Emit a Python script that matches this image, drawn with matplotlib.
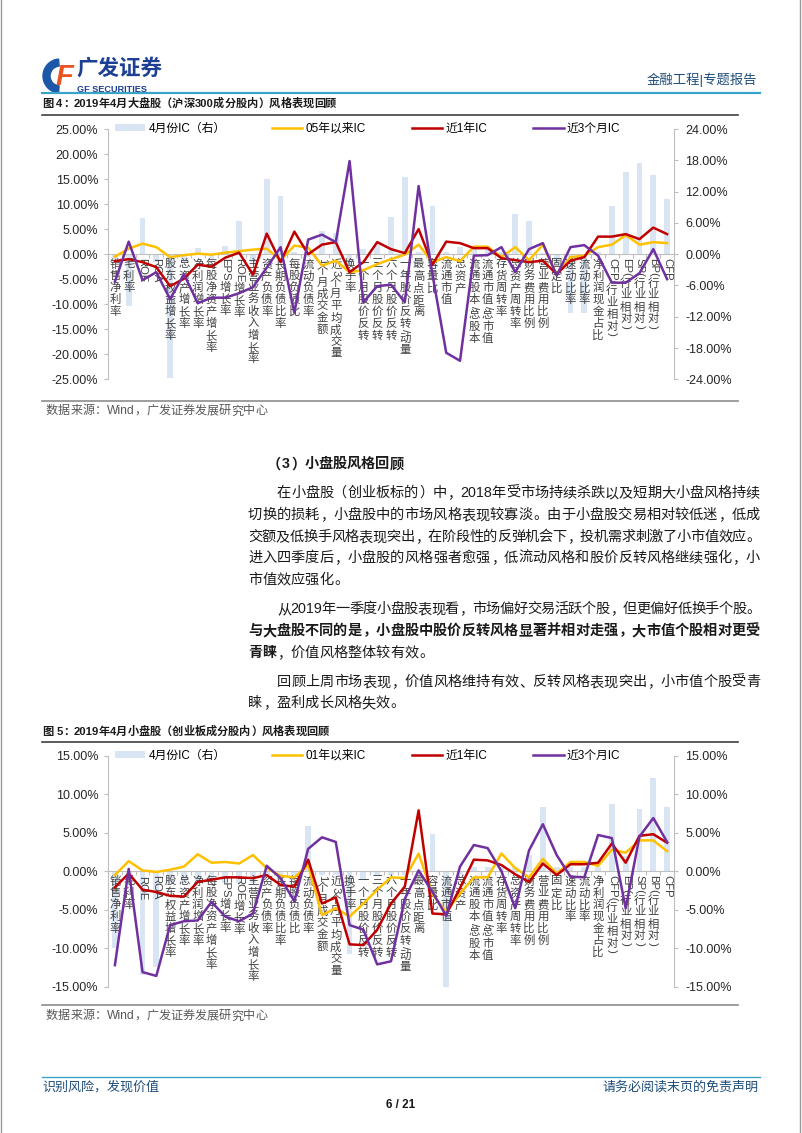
import numpy as np
import matplotlib
matplotlib.use('Agg')
import matplotlib.pyplot as plt
from matplotlib import font_manager
from matplotlib.font_manager import FontProperties
from matplotlib.ft2font import FT2Font
from matplotlib.transforms import ScaledTranslation
from matplotlib.patches import Wedge
from matplotlib.ticker import FuncFormatter

plt.rcParams['font.family'] = ['Liberation Sans', 'Noto Sans CJK SC']
plt.rcParams['axes.unicode_minus'] = False

# ---------------------------------------------------------------- data
categories = ['销售净利率', '毛利率', 'ROE', 'ROA', '股东权益增长率', '总资产增长率', '净利润增长率',
              '每股净资产增长率', 'EPS增长率', 'ROE增长率', '主营业务收入增长率', '资产负债率', '长期负债比率',
              '每股负债比', '流动负债率', '1个月成交金额', '近3个月平均成交量', '换手率', '一个月股价反转',
              '三个月股价反转', '六个月股价反转', '一年股价反转/动量', '最高点距离', '容量比', '流通市值',
              '总资产', '流通股本/总股本', '流通市值/总市值', '存货周转率', '总资产周转率', '财务费用比例',
              '营业费用比例', '固定比', '速动比率', '流动比率', '净利润现金占比', 'CFP(行业相对)',
              'EP(行业相对)', 'SP(行业相对)', 'BP(行业相对)', 'CFP']

# 图4 大盘股 (%)
big_apr = [-1.5, -9.9, 7.0, -1.5, -23.7, -1.5, 1.2, -1.0, 1.5, 6.3, -1.5, 14.5, 11.2, 0.5,
           -0.5, 4.5, 4.1, -2.0, 1.0, 1.8, 7.2, 14.8, 0.5, 9.2, 0.5, 1.3, 1.0, 1.0,
           0.5, 7.7, 6.4, 0.3, -2.5, -11.3, -11.3, 0.5, 9.3, 15.7, 17.5, 15.2, 10.5]
big_long = [-0.5, 1.1, 2.1, 1.4, -0.6, -0.2, 0.1, -0.1, 0.3, 0.6, 0.9, 1.1, -1.2, 1.7,
            1.3, -2.3, -1.3, -3.6, -3.2, -2.0, -1.0, -0.1, 1.9, -1.6, -0.6, -1.4, 1.5, 1.5,
            -0.6, 1.4, -1.2, 1.9, -4.1, -0.6, -0.3, 1.4, 1.9, 3.8, 1.9, 2.4, 2.2]
big_1y = [-1.4, -1.0, -1.6, -2.6, -6.4, -4.9, -2.1, -2.5, -0.7, 0.3, -4.1, 4.1, -1.6, 4.5,
          0.0, 1.9, 2.4, -3.6, -1.6, 2.4, 1.0, 0.2, 5.0, -2.1, 2.5, 2.2, 1.2, 1.2,
          -0.8, -1.2, -1.6, -1.3, -4.0, -1.3, -0.6, 3.5, 3.5, 4.0, 3.0, 5.3, 4.0]
big_3m = [-5.5, 2.5, -5.2, -3.6, -9.0, -4.0, -9.8, -8.7, -8.7, -7.8, -6.6, -2.7, 1.4, -11.7,
          2.9, 3.9, 2.4, 18.6, -9.6, -6.4, -6.1, -9.6, 13.6, -4.0, -19.7, -21.3, -0.3, -0.2,
          1.4, -3.6, 1.0, 2.2, -4.3, 1.4, 1.8, -0.3, -5.7, -5.7, -3.8, 1.0, -5.0]

# 图5 小盘股 (%)
small_apr = [-10.0, -1.0, -13.5, -12.5, -1.5, -1.5, -1.5, -1.0, -1.5, -1.5, -1.5, -0.5, -2.0, -0.5,
             5.9, -0.5, -0.5, -10.7, -1.0, -0.5, -0.5, -0.5, -0.5, 4.8, -15.1, -0.5, 0.5, 0.5,
             0.5, 0.5, 2.1, 8.3, 0.5, 0.5, 0.5, 0.5, 8.7, 2.0, 8.1, 12.1, 8.3]
small_long = [-0.5, 1.3, 0.1, -0.1, 0.2, 0.6, 2.2, 1.1, 1.2, 1.0, 2.1, 0.4, -0.6, -0.8,
              0.8, -5.7, -4.8, -5.9, -4.2, -2.4, -0.8, -0.9, 2.3, -3.0, -5.3, -2.9, -0.8, -0.8,
              2.3, 0.4, -0.8, 1.6, -0.3, 1.2, 1.2, 0.7, 2.8, 2.4, 4.0, 4.0, 2.6]
small_1y = [-2.1, -0.3, -2.4, -2.7, -3.2, -3.3, -1.4, -1.1, -0.8, -0.8, -0.9, -0.5, -1.8, -2.0,
            1.5, -4.2, -3.4, -9.5, -9.6, -7.6, -4.2, -2.0, 7.9, -5.5, -5.6, -2.2, 1.5, 1.4,
            0.8, -0.4, -1.4, 1.0, -0.5, 0.9, 0.9, 1.1, 3.6, 1.1, 4.6, 4.8, 3.7]
small_3m = [-12.2, 0.3, -13.1, -13.6, -7.0, -6.5, -6.4, -4.0, -5.9, -6.5, -5.5, 0.7, -0.9, -3.9,
            2.9, 4.4, 3.8, -7.0, -7.6, -12.1, -11.7, -3.6, 0.1, -2.7, -5.8, 0.6, 3.4, 3.0,
            0.0, -4.8, 2.7, 6.1, 2.1, -0.7, -0.8, 4.7, 4.3, -4.8, 4.5, 6.9, 3.8]

# ---------------------------------------------------------------- style
BAR_C = '#d9e5f3'
YEL = '#ffc000'
RED = '#c00000'
PUR = '#7030a0'
AX_C = '#bfbfbf'
TXT = '#262626'
NAVY = '#1f4e79'

W, H, DPI = 802, 1133, 100
fig = plt.figure(figsize=(W / DPI, H / DPI), dpi=DPI)
page = fig.add_axes([0, 0, 1, 1])
page.set_xlim(0, W)
page.set_ylim(H, 0)
page.axis('off')


def rect(x0, y0, x1, y1):
    return [x0 / W, 1 - y1 / H, (x1 - x0) / W, (y1 - y0) / H]


_ft = {}


def adv(ch, bold=False):
    # advance width of a latin char, in em
    if bold not in _ft:
        f = FT2Font(font_manager.findfont(
            FontProperties(family='Liberation Sans', weight='bold' if bold else 'normal')))
        f.set_size(100, 72)
        _ft[bold] = f
    return _ft[bold].load_char(ord(ch)).linearHoriAdvance / 65536 / 100


def split_tokens(s):
    toks = []
    for ch in s:
        if ch.isascii() and ch != ' ' and toks and toks[-1].isascii() and toks[-1] != ' ':
            toks[-1] += ch
        else:
            toks.append(ch)
    return toks


def put_line(segs, y, x0, x1=None, em=14.2, color='#1a1a1a'):
    items = []
    for text, bold in segs:
        for t in split_tokens(text):
            w = sum(adv(c, bold) for c in t) * em if t.isascii() else em
            items.append((t, bold, w))
    extra = 0.0
    if x1 is not None and len(items) > 1:
        extra = (x1 - x0 - sum(w for _, _, w in items)) / (len(items) - 1)
    size = em * 72 / DPI
    base = y + 0.36 * em
    x = x0
    for t, bold, w in items:
        kw = dict(fontsize=size, color=color, va='baseline',
                  fontweight='bold' if bold else 'normal')
        if t == ' ':
            pass
        elif t.isascii():
            page.text(x, base, t, ha='left', **kw)
        elif t == '（':
            page.text(x + w - 0.06 * em, base, t, ha='right', **kw)
        elif t in '，。、：；）':
            page.text(x + 0.06 * em, base, t, ha='left', **kw)
        else:
            page.text(x + w / 2, base, t, ha='center', **kw)
        x += w + extra


def cat_labels(ax, labels, size=8.2, gap=3.0, color='#404040'):
    # vertical labels: chinese upright, latin rotated
    for i, lab in enumerate(labels):
        off = gap
        for t in split_tokens(lab):
            if t.isascii():
                w = sum(adv(c) for c in t) * size
                tr = ax.transData + ScaledTranslation(0, -(off + w / 2) / 72, fig.dpi_scale_trans)
                ax.text(i, 0, t, transform=tr, rotation=-90, ha='center', va='center',
                        fontsize=size, color=color, clip_on=False)
                off += w
            else:
                tr = ax.transData + ScaledTranslation(0, -(off + size * 0.52) / 72, fig.dpi_scale_trans)
                ax.text(i, 0, t, transform=tr, ha='center', va='center',
                        fontsize=size, color=color, clip_on=False)
                off += size * 1.04


def draw_chart(top, bottom, bars, long_ic, year_ic, m3_ic, long_name, lim_l, step_l, lim_r, step_r):
    x = np.arange(len(categories))
    ax = fig.add_axes(rect(108, top, 674, bottom))
    ax2 = ax.twinx()
    ax.yaxis.tick_right()
    ax2.yaxis.tick_left()
    ax2.yaxis.set_label_position('left')
    ax.patch.set_visible(False)

    b = ax.bar(x, bars, width=0.42, color=BAR_C, zorder=1)
    l1, = ax2.plot(x, long_ic, color=YEL, lw=1.8)
    l2, = ax2.plot(x, year_ic, color=RED, lw=1.8)
    l3, = ax2.plot(x, m3_ic, color=PUR, lw=1.8)

    ax.set_xlim(-0.5, len(x) - 0.5)
    ax.set_ylim(-lim_r, lim_r)
    ax2.set_ylim(-lim_l, lim_l)
    ax.set_yticks(np.arange(-lim_r, lim_r + 0.01, step_r))
    ax2.set_yticks(np.arange(-lim_l, lim_l + 0.01, step_l))
    fmt = FuncFormatter(lambda v, p: f'{v:.2f}%')
    ax.yaxis.set_major_formatter(fmt)
    ax2.yaxis.set_major_formatter(fmt)

    ax.set_xticks(np.arange(-0.5, len(x), 1.0))
    ax.set_xticklabels([])
    ax.tick_params(axis='x', length=3, color=AX_C, direction='out')
    ax.tick_params(axis='y', length=3, color=AX_C, labelsize=9, labelcolor=TXT, pad=5)
    ax2.tick_params(axis='y', length=3, color=AX_C, labelsize=9, labelcolor=TXT, pad=4)

    ax.spines['top'].set_visible(False)
    ax.spines['left'].set_visible(False)
    ax.spines['right'].set_color(AX_C)
    ax.spines['bottom'].set_position(('data', 0))
    ax.spines['bottom'].set_color(AX_C)
    for s in ['top', 'right', 'bottom']:
        ax2.spines[s].set_visible(False)
    ax2.spines['left'].set_color(AX_C)

    cat_labels(ax, categories)

    ax2.legend([b, l1, l2, l3], ['4月份IC（右）', long_name, '近1年IC', '近3个月IC'],
               ncol=4, loc='center left', bbox_to_anchor=(0.012, 1.0), frameon=False,
               fontsize=8.5, handlelength=2.6, handleheight=0.5, handletextpad=0.25,
               columnspacing=3.9, borderpad=0, borderaxespad=0)


# ---------------------------------------------------------------- page header
page.plot([1, 1], [0, H], color='#9a9a9a', lw=1)
page.plot([800, 800], [0, H], color='#9a9a9a', lw=1)
page.add_patch(Wedge((60, 76), 17, 95, 265, width=7, color='#1d58a8'))
page.text(64, 77, 'F', fontsize=21, fontweight='bold', fontstyle='italic', color='#e8531f',
          ha='center', va='center')
page.text(76, 69, '广发证券', fontsize=15.5, fontweight='bold', color='#1d3f94', va='center')
page.text(77, 89, 'GF SECURITIES', fontsize=6.6, fontweight='bold', color='#1d3f94', va='center')
page.text(757, 80, '金融工程|专题报告', fontsize=9.6, color=NAVY, ha='right', va='center')
page.plot([42, 760], [92.5, 92.5], color='#3aa4c8', lw=1.6)

# ---------------------------------------------------------------- chart 4
put_line([('图 4：2019年4月大盘股（沪深300成分股内）风格表现回顾', True)], 103, 42, em=11.2, color='#1a1a1a')
page.plot([42, 738], [115, 115], color='#404040', lw=1.2)
draw_chart(129, 379.3, big_apr, big_long, big_1y, big_3m, '05年以来IC', 25, 5, 24, 6)
page.plot([42, 738], [401, 401], color='#8c8c8c', lw=1.2)
put_line([('数据来源：Wind，广发证券发展研究中心', False)], 410, 46, em=12.1, color='#595959')

# ---------------------------------------------------------------- text
put_line([('（3）小盘股风格回顾', True)], 463, 268, em=14.2)
body = [
    ([('在小盘股（创业板标的）中，2018年受市场持续杀跌以及短期大小盘风格持续', False)], 492, 277, 760),
    ([('切换的损耗，小盘股中的市场风格表现较寡淡。由于小盘股交易相对较低迷，低成', False)], 514, 248, 760),
    ([('交额及低换手风格表现突出，在阶段性的反弹机会下，投机需求刺激了小市值效应。', False)], 536, 248, 760),
    ([('进入四季度后，小盘股的风格强者愈强，低流动风格和股价反转风格继续强化，小', False)], 557, 248, 760),
    ([('市值效应强化。', False)], 579, 248, None),
    ([('从2019年一季度小盘股表现看，市场偏好交易活跃个股，但更偏好低换手个股。', False)], 608, 277, 760),
    ([('与大盘股不同的是，小盘股中股价反转风格显著并相对走强，大市值个股相对更受', True)], 630, 248, 760),
    ([('青睐', True), ('，价值风格整体较有效。', False)], 652, 248, None),
    ([('回顾上周市场表现，价值风格维持有效、反转风格表现突出，小市值个股受青', False)], 681, 277, 760),
    ([('睐，盈利成长风格失效。', False)], 702, 248, None),
]
for segs, y, x0, x1 in body:
    put_line(segs, y, x0, x1)

# ---------------------------------------------------------------- chart 5
put_line([('图 5：2019年4月小盘股（创业板成分股内）风格表现回顾', True)], 731, 42, em=11.2, color='#1a1a1a')
page.plot([42, 738], [741.5, 741.5], color='#404040', lw=1.2)
draw_chart(755.7, 986.7, small_apr, small_long, small_1y, small_3m, '01年以来IC', 15, 5, 15, 5)
page.plot([42, 738], [1005, 1005], color='#8c8c8c', lw=1.2)
put_line([('数据来源：Wind，广发证券发展研究中心', False)], 1015, 46, em=12.1, color='#595959')

# ---------------------------------------------------------------- footer
page.plot([42, 760], [1077, 1077], color='#3aa4c8', lw=1.0)
page.text(42, 1087, '识别风险，发现价值', fontsize=9.4, color=NAVY, va='center')
page.text(758, 1087, '请务必阅读末页的免责声明', fontsize=9.4, color=NAVY, ha='right', va='center')
page.text(401, 1105, '6 / 21', fontsize=8.5, color='#1a1a1a', ha='center', va='center', fontweight='bold')

fig.savefig('out.png', dpi=DPI)
